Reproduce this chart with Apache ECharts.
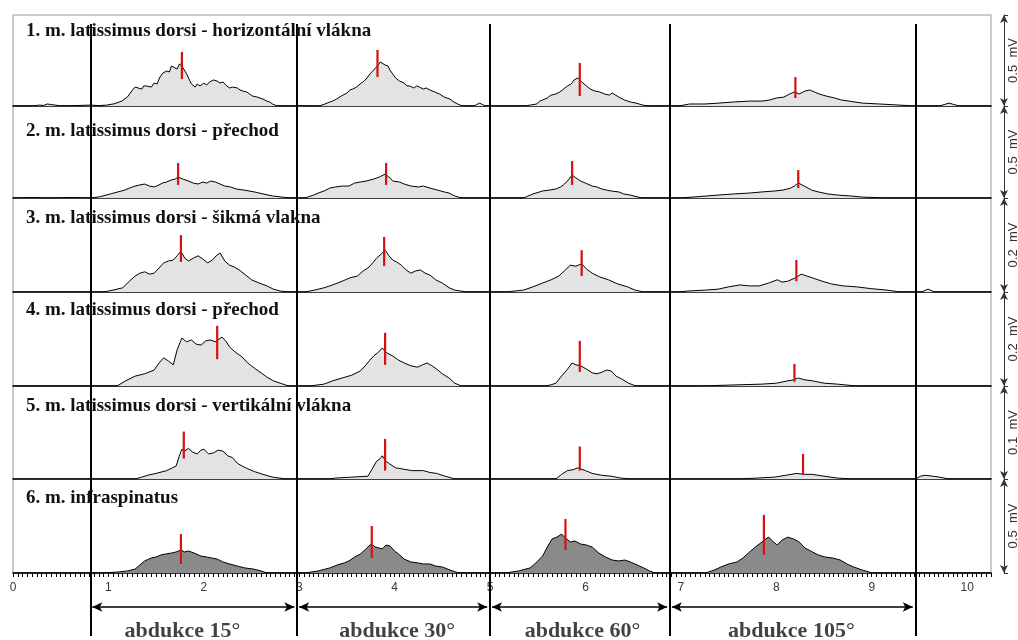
<!DOCTYPE html>
<html>
<head>
<meta charset="utf-8">
<script src="https://cdn.jsdelivr.net/npm/echarts@6/dist/echarts.min.js"></script>
<style>html,body{margin:0;padding:0;background:#fff}#c{width:1018px;height:640px}</style>
</head>
<body>
<div id="c"></div>
<script>
// ---- data ----
const titles = [
  '1. m. latissimus dorsi - horizontální vlákna',
  '2. m. latissimus dorsi - přechod',
  '3. m. latissimus dorsi - šikmá vlakna',
  '4. m. latissimus dorsi - přechod',
  '5. m. latissimus dorsi - vertikální vlákna',
  '6. m. infraspinatus'
];
const scales = [0.5, 0.5, 0.2, 0.2, 0.1, 0.5];
const scaleLabels = ['0.5  mV', '0.5  mV', '0.2  mV', '0.2  mV', '0.1  mV', '0.5  mV'];
const phaseBounds = [0.806, 2.974, 4.995, 6.880, 9.455];
const phases = ['abdukce 15°', 'abdukce 30°', 'abdukce 60°', 'abdukce 105°'];
const xTickLabels = ['0','1','2','3','4','5','6','7','8','9','10'];

// EMG envelopes: [time (s), amplitude (mV)]
const p1 = [[0,0],[0.18,0],[0.24,0.003],[0.28,0.005],[0.32,0.003],[0.36,0.011],[0.40,0.008],[0.44,0.005],[0.51,0],[0.65,0.002],[0.81,0.005],[0.90,0.002],
  [0.98,0.005],[1.06,0.012],[1.14,0.027],[1.20,0.050],[1.26,0.093],[1.28,0.104],[1.30,0.099],[1.35,0.093],[1.37,0.110],[1.40,0.110],[1.45,0.104],[1.48,0.126],[1.51,0.121],[1.54,0.159],[1.57,0.181],[1.61,0.192],[1.64,0.187],[1.66,0.220],[1.68,0.214],[1.72,0.203],[1.745,0.231],[1.77,0.220],[1.795,0.198],[1.82,0.176],[1.845,0.148],[1.87,0.121],[1.91,0.104],[1.93,0.121],[1.96,0.110],[2.00,0.126],[2.03,0.115],[2.06,0.132],[2.10,0.143],[2.14,0.137],[2.17,0.126],[2.20,0.132],[2.24,0.110],[2.27,0.099],[2.30,0.104],[2.35,0.099],[2.38,0.088],[2.41,0.082],[2.45,0.077],[2.48,0.066],[2.51,0.055],[2.56,0.049],[2.58,0.055],[2.62,0.038],[2.66,0.027],[2.69,0.022],[2.72,0.011],[2.77,0],
  [2.95,0],[3.00,0.003],[3.05,0],
  [3.21,0],[3.27,0.011],[3.32,0.022],[3.35,0.027],[3.39,0.038],[3.44,0.055],[3.50,0.071],[3.53,0.088],[3.56,0.093],[3.60,0.104],[3.65,0.126],[3.68,0.137],[3.71,0.154],[3.74,0.176],[3.77,0.192],[3.80,0.209],[3.82,0.220],[3.85,0.242],[3.87,0.236],[3.90,0.225],[3.93,0.220],[3.95,0.198],[3.98,0.176],[4.01,0.154],[4.05,0.137],[4.10,0.126],[4.13,0.110],[4.16,0.110],[4.20,0.099],[4.23,0.110],[4.26,0.104],[4.30,0.093],[4.33,0.099],[4.37,0.088],[4.42,0.077],[4.47,0.066],[4.52,0.049],[4.58,0.038],[4.62,0.022],[4.66,0.011],[4.71,0],[4.83,0],[4.86,0.008],[4.89,0.016],[4.92,0.008],[4.95,0],
  [5.36,0],[5.42,0.005],[5.49,0.011],[5.52,0.027],[5.55,0.033],[5.60,0.044],[5.64,0.060],[5.69,0.066],[5.73,0.077],[5.77,0.093],[5.81,0.110],[5.85,0.121],[5.88,0.143],[5.92,0.154],[5.96,0.132],[6.01,0.110],[6.05,0.093],[6.10,0.082],[6.15,0.077],[6.20,0.066],[6.25,0.060],[6.28,0.071],[6.30,0.066],[6.35,0.049],[6.41,0.033],[6.47,0.022],[6.53,0.016],[6.60,0.005],[6.67,0],
  [6.98,0],[7.09,0.011],[7.25,0.011],[7.40,0.016],[7.55,0.022],[7.72,0.027],[7.85,0.027],[7.93,0.033],[8.00,0.044],[8.08,0.049],[8.14,0.066],[8.19,0.077],[8.24,0.066],[8.30,0.082],[8.35,0.088],[8.40,0.077],[8.45,0.066],[8.52,0.055],[8.61,0.044],[8.68,0.033],[8.76,0.027],[8.90,0.016],[9.08,0.011],[9.29,0.005],[9.46,0],[9.71,0],[9.76,0.008],[9.81,0.016],[9.86,0.008],[9.92,0],[10.25,0]];

const p2 = [[0,0],[0.2,0.003],[0.35,0],[0.6,0.003],[0.83,0],[0.92,0.008],[1.02,0.022],[1.10,0.033],[1.17,0.043],[1.22,0.054],[1.28,0.065],[1.33,0.071],[1.38,0.076],[1.43,0.065],[1.48,0.060],[1.53,0.071],[1.57,0.082],[1.61,0.087],[1.66,0.098],[1.70,0.103],[1.73,0.114],[1.78,0.103],[1.84,0.092],[1.89,0.081],[1.94,0.076],[1.99,0.087],[2.03,0.081],[2.07,0.092],[2.12,0.087],[2.17,0.076],[2.22,0.065],[2.28,0.060],[2.34,0.049],[2.42,0.043],[2.53,0.033],[2.62,0.022],[2.72,0.011],[2.82,0.005],[2.92,0],
  [3.06,0],[3.15,0.016],[3.20,0.027],[3.26,0.038],[3.32,0.054],[3.38,0.060],[3.45,0.065],[3.52,0.065],[3.58,0.081],[3.64,0.087],[3.70,0.092],[3.78,0.103],[3.84,0.114],[3.90,0.130],[3.94,0.114],[3.98,0.092],[4.05,0.087],[4.10,0.076],[4.17,0.065],[4.25,0.060],[4.30,0.065],[4.37,0.054],[4.45,0.043],[4.52,0.033],[4.57,0.027],[4.63,0.011],[4.70,0],
  [5.35,0],[5.45,0.022],[5.55,0.038],[5.62,0.043],[5.69,0.049],[5.74,0.060],[5.78,0.076],[5.82,0.098],[5.86,0.125],[5.90,0.109],[5.95,0.092],[6.00,0.081],[6.07,0.065],[6.12,0.060],[6.17,0.049],[6.22,0.043],[6.27,0.038],[6.35,0.033],[6.40,0.022],[6.47,0.016],[6.55,0.005],[6.61,0],
  [6.99,0],[7.20,0.008],[7.39,0.016],[7.55,0.022],[7.72,0.027],[7.85,0.033],[7.98,0.038],[8.07,0.043],[8.15,0.054],[8.19,0.065],[8.23,0.082],[8.27,0.071],[8.31,0.060],[8.37,0.043],[8.44,0.033],[8.54,0.022],[8.64,0.016],[8.78,0.011],[8.90,0.005],[9.16,0],[10.25,0]];

const p3 = [[0,0],[0.95,0],[1.05,0.004],[1.15,0.009],[1.22,0.023],[1.28,0.034],[1.33,0.040],[1.38,0.043],[1.43,0.038],[1.48,0.040],[1.53,0.051],[1.58,0.062],[1.63,0.066],[1.68,0.068],[1.72,0.077],[1.76,0.087],[1.80,0.072],[1.84,0.066],[1.89,0.072],[1.94,0.077],[1.99,0.070],[2.04,0.062],[2.09,0.068],[2.13,0.077],[2.17,0.083],[2.22,0.066],[2.27,0.057],[2.32,0.053],[2.37,0.047],[2.44,0.036],[2.50,0.026],[2.58,0.019],[2.66,0.013],[2.73,0.006],[2.80,0.002],[2.90,0],
  [3.06,0],[3.16,0.004],[3.26,0.009],[3.35,0.015],[3.45,0.023],[3.53,0.030],[3.61,0.034],[3.67,0.045],[3.72,0.051],[3.77,0.062],[3.81,0.072],[3.86,0.081],[3.90,0.089],[3.94,0.077],[3.98,0.068],[4.02,0.064],[4.07,0.057],[4.12,0.047],[4.17,0.040],[4.22,0.045],[4.27,0.047],[4.32,0.040],[4.37,0.036],[4.43,0.026],[4.50,0.019],[4.57,0.009],[4.63,0.004],[4.76,0],
  [5.16,0],[5.35,0.004],[5.45,0.011],[5.55,0.019],[5.64,0.026],[5.72,0.034],[5.78,0.045],[5.84,0.057],[5.90,0.055],[5.96,0.060],[6.01,0.049],[6.07,0.040],[6.15,0.032],[6.24,0.026],[6.34,0.017],[6.44,0.011],[6.52,0.004],[6.61,0],
  [6.98,0],[7.07,0.002],[7.25,0.004],[7.39,0.006],[7.50,0.011],[7.62,0.015],[7.72,0.013],[7.82,0.013],[7.92,0.019],[8.01,0.026],[8.06,0.021],[8.12,0.023],[8.20,0.030],[8.26,0.038],[8.32,0.034],[8.38,0.030],[8.48,0.023],[8.58,0.017],[8.70,0.013],[8.84,0.011],[9.00,0.007],[9.16,0.004],[9.30,0],[9.52,0],[9.59,0.006],[9.66,0],[10.25,0]];

const p4 = [[0,0],[1.09,0],[1.18,0.011],[1.28,0.021],[1.38,0.026],[1.48,0.034],[1.53,0.049],[1.58,0.060],[1.63,0.053],[1.68,0.045],[1.72,0.077],[1.77,0.102],[1.82,0.094],[1.87,0.098],[1.92,0.089],[1.97,0.087],[2.02,0.096],[2.07,0.098],[2.12,0.094],[2.19,0.104],[2.23,0.096],[2.27,0.083],[2.33,0.072],[2.40,0.062],[2.46,0.049],[2.53,0.038],[2.60,0.028],[2.66,0.019],[2.73,0.011],[2.80,0.006],[2.89,0],
  [3.11,0],[3.26,0.004],[3.35,0.011],[3.45,0.017],[3.55,0.023],[3.64,0.032],[3.70,0.045],[3.74,0.055],[3.78,0.064],[3.83,0.072],[3.87,0.081],[3.92,0.070],[3.98,0.064],[4.04,0.055],[4.10,0.049],[4.17,0.043],[4.24,0.040],[4.29,0.045],[4.34,0.049],[4.39,0.043],[4.44,0.036],[4.50,0.026],[4.57,0.017],[4.63,0.006],[4.70,0],
  [5.57,0],[5.63,0.002],[5.69,0.006],[5.74,0.019],[5.78,0.028],[5.82,0.038],[5.86,0.049],[5.90,0.045],[5.95,0.043],[6.01,0.036],[6.07,0.028],[6.12,0.026],[6.18,0.030],[6.22,0.034],[6.27,0.032],[6.32,0.021],[6.38,0.015],[6.45,0.006],[6.53,0],
  [7.19,0],[7.52,0.002],[7.85,0.004],[8.00,0.006],[8.12,0.011],[8.18,0.013],[8.23,0.017],[8.30,0.013],[8.38,0.011],[8.50,0.006],[8.64,0.004],[8.84,0],[10.25,0]];

const p5 = [[0,0],[1.12,0],[1.28,0],[1.35,0.002],[1.41,0.004],[1.50,0.006],[1.61,0.009],[1.67,0.012],[1.71,0.014],[1.74,0.024],[1.77,0.032],[1.80,0.030],[1.84,0.033],[1.88,0.029],[1.93,0.027],[1.97,0.031],[2.00,0.032],[2.05,0.027],[2.10,0.028],[2.15,0.031],[2.20,0.030],[2.25,0.025],[2.30,0.023],[2.35,0.017],[2.40,0.014],[2.46,0.011],[2.53,0.008],[2.62,0.005],[2.72,0.002],[2.86,0],
  [3.32,0],[3.38,0.001],[3.55,0.002],[3.72,0.003],[3.76,0.010],[3.81,0.019],[3.85,0.022],[3.87,0.025],[3.91,0.019],[3.95,0.016],[4.01,0.012],[4.07,0.011],[4.18,0.009],[4.30,0.009],[4.37,0.007],[4.44,0.006],[4.53,0.003],[4.63,0],
  [5.69,0],[5.75,0.005],[5.81,0.009],[5.87,0.010],[5.92,0.012],[6.00,0.009],[6.07,0.006],[6.17,0.004],[6.27,0.003],[6.37,0.001],[6.47,0],
  [7.59,0],[7.80,0.001],[7.98,0.002],[8.10,0.004],[8.21,0.006],[8.30,0.005],[8.38,0.005],[8.50,0.003],[8.64,0.001],[8.81,0],[9.46,0],[9.51,0.003],[9.56,0.004],[9.64,0.003],[9.71,0.002],[9.81,0],[10.25,0]];

const p6 = [[0,0],[0.92,0],[1.10,0.005],[1.20,0.011],[1.28,0.021],[1.33,0.043],[1.38,0.064],[1.45,0.080],[1.50,0.085],[1.55,0.096],[1.60,0.101],[1.66,0.106],[1.71,0.112],[1.76,0.122],[1.80,0.112],[1.84,0.117],[1.90,0.106],[1.97,0.090],[2.03,0.085],[2.08,0.080],[2.14,0.074],[2.20,0.059],[2.27,0.048],[2.35,0.037],[2.43,0.027],[2.52,0.021],[2.60,0.011],[2.66,0],
  [3.06,0],[3.20,0.011],[3.32,0.027],[3.40,0.043],[3.47,0.053],[3.52,0.064],[3.58,0.085],[3.64,0.101],[3.70,0.128],[3.75,0.154],[3.80,0.138],[3.87,0.128],[3.91,0.149],[3.95,0.144],[4.00,0.117],[4.04,0.101],[4.10,0.074],[4.17,0.059],[4.25,0.053],[4.30,0.048],[4.37,0.048],[4.43,0.037],[4.50,0.032],[4.58,0.016],[4.67,0],
  [5.16,0],[5.30,0.011],[5.42,0.027],[5.48,0.053],[5.55,0.090],[5.60,0.138],[5.65,0.181],[5.70,0.191],[5.75,0.207],[5.79,0.186],[5.84,0.165],[5.89,0.170],[5.95,0.154],[6.01,0.149],[6.07,0.138],[6.14,0.106],[6.21,0.085],[6.28,0.069],[6.35,0.064],[6.41,0.069],[6.47,0.059],[6.54,0.043],[6.61,0.027],[6.67,0.011],[6.73,0],
  [7.26,0],[7.35,0.016],[7.42,0.032],[7.50,0.048],[7.59,0.059],[7.65,0.080],[7.72,0.112],[7.78,0.138],[7.85,0.165],[7.89,0.181],[7.92,0.191],[7.97,0.165],[8.01,0.149],[8.06,0.175],[8.12,0.191],[8.18,0.181],[8.24,0.165],[8.30,0.133],[8.38,0.112],[8.44,0.096],[8.51,0.085],[8.59,0.080],[8.67,0.069],[8.74,0.048],[8.81,0.032],[8.90,0.016],[9.01,0],[10.25,0]];

// red markers: time, low and high amplitude (mV)
const m1x = [1.77, 3.82, 5.94, 8.20], m1lo = [0.148, 0.159, 0.055, 0.044], m1hi = [0.297, 0.308, 0.236, 0.159];
const m2x = [1.73, 3.91, 5.86, 8.23], m2lo = [0.071, 0.071, 0.071, 0.054], m2hi = [0.190, 0.190, 0.201, 0.152];
const m3x = [1.76, 3.89, 5.96, 8.21], m3lo = [0.064, 0.055, 0.034, 0.023], m3hi = [0.121, 0.117, 0.089, 0.068];
const m4x = [2.14, 3.90, 5.94, 8.19], m4lo = [0.057, 0.045, 0.030, 0.009], m4hi = [0.128, 0.113, 0.096, 0.047];
const m5x = [1.79, 3.90, 5.94, 8.28], m5lo = [0.022, 0.009, 0.009, 0.005], m5hi = [0.051, 0.043, 0.035, 0.027];
const m6x = [1.76, 3.76, 5.79, 7.87], m6lo = [0.048, 0.080, 0.122, 0.096], m6hi = [0.207, 0.250, 0.287, 0.309];

// ---- build ----
const P = [p1, p2, p3, p4, p5, p6];
const MX = [m1x, m2x, m3x, m4x, m5x, m6x];
const MLO = [m1lo, m2lo, m3lo, m4lo, m5lo, m6lo];
const MHI = [m1hi, m2hi, m3hi, m4hi, m5hi, m6hi];

const XMAX = 10.25;
const LEFT = 13, WIDTH = 978;
const tops = [15, 106, 198, 292, 386, 479];
const bottoms = [106, 198, 292, 386, 479, 573];
const titleCenters = [33, 133, 220, 312, 408, 500];
const phaseLabelShift = [-11, 4, 3, -1];
const serif = 'Liberation Serif';
const sans = 'Liberation Sans';

const grid = [], xAxis = [], yAxis = [], series = [], title = [];
const gridBase = {left: LEFT, width: WIDTH, outerBoundsMode: 'none', containLabel: false};

// frame grid (index 0)
grid.push(Object.assign({}, gridBase, {top: 15, height: 558, show: true, borderColor: '#9a9a9a', borderWidth: 1, backgroundColor: 'transparent'}));
xAxis.push({gridIndex: 0, type: 'value', min: 0, max: XMAX, show: false});
yAxis.push({gridIndex: 0, type: 'value', min: 0, max: 1, show: false});

for (let i = 0; i < 6; i++) {
  const gi = i + 1;
  const last = i === 5;
  grid.push(Object.assign({}, gridBase, {top: tops[i], height: bottoms[i] - tops[i]}));
  xAxis.push({
    gridIndex: gi, type: 'value', min: 0, max: XMAX, interval: last ? 0.05 : 1,
    axisLine: {show: true, onZero: false, lineStyle: {color: '#000', width: 1.6}},
    axisTick: {show: last, length: 4, interval: 0, lineStyle: {color: '#000', width: 1}},
    axisLabel: {
      show: last, interval: 0, margin: 9, color: '#3a3a3a', fontFamily: sans, fontSize: 12,
      formatter: v => {
        const r = Math.round(v);
        return Math.abs(v - r) < 1e-6 && r <= 10 ? xTickLabels[r] : '';
      }
    },
    splitLine: {show: false}
  });
  yAxis.push({
    gridIndex: gi, type: 'value', min: 0, max: scales[i], interval: scales[i],
    position: 'right', offset: 13,
    axisLine: {show: true, onZero: false, symbol: ['arrow', 'arrow'], symbolSize: [6, 8], lineStyle: {color: '#333', width: 1}},
    axisTick: {show: true, length: 4, inside: false, lineStyle: {color: '#333'}},
    axisLabel: {show: false},
    splitLine: {show: false},
    name: scaleLabels[i], nameLocation: 'middle', nameRotate: 90, nameGap: 3,
    nameTextStyle: {fontFamily: sans, fontSize: 13, color: '#333'}
  });
  series.push({
    type: 'line', xAxisIndex: gi, yAxisIndex: gi, symbol: 'none', silent: true,
    data: P[i],
    lineStyle: {color: '#000', width: 1},
    areaStyle: {color: last ? '#8a8a8a' : '#e3e3e3', opacity: 1},
    z: 2
  });
  series.push({
    type: 'custom', xAxisIndex: gi, yAxisIndex: gi, silent: true,
    data: MX[i].map((x, j) => [x, MLO[i][j], MHI[i][j]]),
    encode: {x: 0, y: [1, 2]},
    renderItem: (params, api) => {
      const a = api.coord([api.value(0), api.value(1)]);
      const b = api.coord([api.value(0), api.value(2)]);
      return {type: 'line', shape: {x1: a[0], y1: a[1], x2: b[0], y2: b[1]},
        style: {stroke: '#d41010', lineWidth: 2.2}};
    },
    z: 4
  });
  title.push({
    text: titles[i], left: 26, top: titleCenters[i] - 11, padding: 0,
    textStyle: {fontFamily: serif, fontWeight: 'bold', fontSize: 19, color: '#111'}
  });
}

// overlay grid for phase boundary lines (index 7)
grid.push(Object.assign({}, gridBase, {top: 24, height: 612}));
xAxis.push({gridIndex: 7, type: 'value', min: 0, max: XMAX, show: false});
yAxis.push({gridIndex: 7, type: 'value', min: 0, max: 1, show: false});
series.push({
  type: 'line', xAxisIndex: 7, yAxisIndex: 7, data: [], silent: true, z: 6,
  markLine: {
    silent: true, symbol: 'none', label: {show: false}, animation: false,
    lineStyle: {color: '#000', width: 2, type: 'solid'},
    data: phaseBounds.map(b => ({xAxis: b}))
  }
});

// annotation grid (index 8)
grid.push(Object.assign({}, gridBase, {top: 596, height: 44}));
xAxis.push({gridIndex: 8, type: 'value', min: 0, max: XMAX, show: false});
yAxis.push({gridIndex: 8, type: 'value', min: 0, max: 1, show: false});
series.push({
  type: 'line', xAxisIndex: 8, yAxisIndex: 8, data: [], silent: true, z: 6,
  markLine: {
    silent: true, symbol: ['arrow', 'arrow'], symbolSize: [7, 10], label: {show: false}, animation: false,
    lineStyle: {color: '#000', width: 1.6, type: 'solid'},
    data: phases.map((p, k) => [{coord: [phaseBounds[k] + 0.025, 0.75]}, {coord: [phaseBounds[k + 1] - 0.025, 0.75]}])
  }
});
series.push({
  type: 'scatter', xAxisIndex: 8, yAxisIndex: 8, symbolSize: 0, silent: true, z: 6,
  data: phases.map((p, k) => ({
    name: p, value: [(phaseBounds[k] + phaseBounds[k + 1]) / 2, 0.2],
    label: {offset: [phaseLabelShift[k], 0]}
  })),
  label: {show: true, position: 'inside', formatter: '{b}', fontFamily: serif, fontWeight: 'bold', fontSize: 22, color: '#111'}
});

const chart = echarts.init(document.getElementById('c'), null, {renderer: 'canvas'});
chart.setOption({
  animation: false,
  backgroundColor: '#fff',
  title, grid, xAxis, yAxis, series
});
</script>
</body>
</html>
